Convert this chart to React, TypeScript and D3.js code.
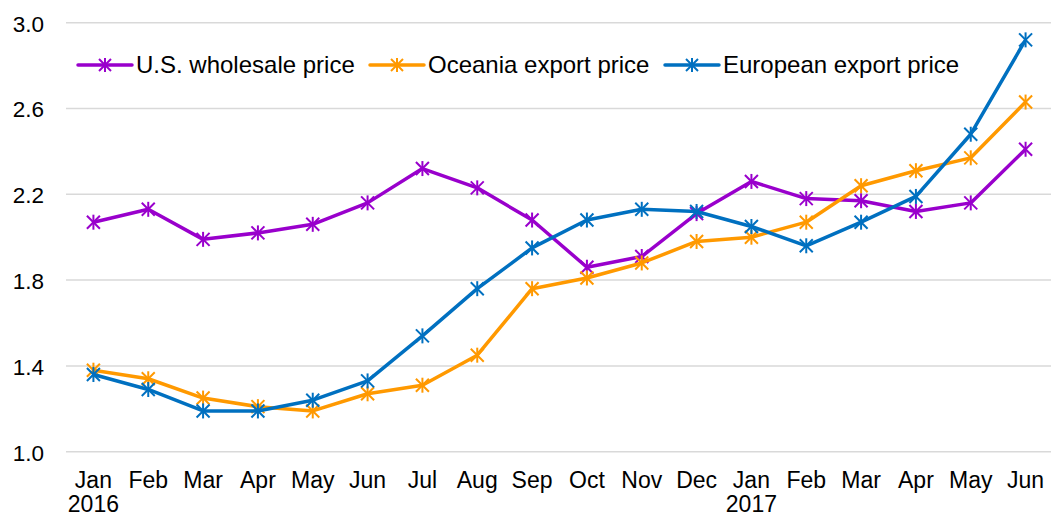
import React from "react";
import * as d3 from "d3";

const months = ["Jan", "Feb", "Mar", "Apr", "May", "Jun", "Jul", "Aug", "Sep", "Oct", "Nov", "Dec", "Jan", "Feb", "Mar", "Apr", "May", "Jun"];
const years: Record<number, string> = { 0: "2016", 12: "2017" };
const usWholesale = [2.07, 2.13, 1.99, 2.02, 2.06, 2.16, 2.32, 2.23, 2.08, 1.86, 1.91, 2.11, 2.26, 2.18, 2.17, 2.12, 2.16, 2.41];
const oceaniaExport = [1.38, 1.34, 1.25, 1.21, 1.19, 1.27, 1.31, 1.45, 1.76, 1.81, 1.88, 1.98, 2.0, 2.07, 2.24, 2.31, 2.37, 2.63];
const europeanExport = [1.36, 1.29, 1.19, 1.19, 1.24, 1.33, 1.54, 1.76, 1.95, 2.08, 2.13, 2.12, 2.05, 1.96, 2.07, 2.19, 2.48, 2.92];
const yTicks = [1.0, 1.4, 1.8, 2.2, 2.6, 3.0];
const seriesNames = ["U.S. wholesale price", "Oceania export price", "European export price"];
const seriesColors = ["#9900CC", "#FF9900", "#0070C0"];

const W = 1051;
const H = 517;
const FONT = "'Liberation Sans', Arial, sans-serif";

function Star({ x, y, color, r = 6.5 }: { x: number; y: number; color: string; r?: number }) {
  return (
    <g stroke={color} strokeWidth={2}>
      <line x1={x - r} y1={y - r} x2={x + r} y2={y + r} />
      <line x1={x - r} y1={y + r} x2={x + r} y2={y - r} />
      <line x1={x} y1={y - r - 1} x2={x} y2={y + r + 1} />
    </g>
  );
}

export default function App() {
  const x = d3.scaleBand<number>().domain(d3.range(months.length)).range([66, 1053]);
  const y = d3.scaleLinear().domain([1, 3]).range([451.7, 22.7]);
  const cx = (i: number) => (x(i) as number) + x.bandwidth() / 2;
  const line = d3.line<number>().x((_, i) => cx(i)).y((d) => y(d));
  const series = [usWholesale, oceaniaExport, europeanExport];
  const legendX = [78, 370, 665];

  return (
    <svg width={W} height={H} style={{ position: "absolute", left: 0, top: 0, background: "#fff" }} fontFamily={FONT}>
      {yTicks.map((t) => (
        <g key={t}>
          <line x1={66} x2={1051} y1={y(t)} y2={y(t)} stroke="#D9D9D9" strokeWidth={1.5} />
          <text x={44} y={y(t) + 1} dy="0.35em" textAnchor="end" fontSize={22.5} fill="#000">
            {t.toFixed(1)}
          </text>
        </g>
      ))}
      {months.map((m, i) => (
        <g key={i}>
          <text x={cx(i)} y={488} textAnchor="middle" fontSize={23} fill="#000">
            {m}
          </text>
          {years[i] && (
            <text x={cx(i)} y={512} textAnchor="middle" fontSize={23} fill="#000">
              {years[i]}
            </text>
          )}
        </g>
      ))}
      {series.map((s, k) => (
        <g key={k}>
          <path d={line(s) ?? ""} fill="none" stroke={seriesColors[k]} strokeWidth={3.5} strokeLinejoin="round" />
          {s.map((v, i) => (
            <Star key={i} x={cx(i)} y={y(v)} color={seriesColors[k]} />
          ))}
        </g>
      ))}
      {seriesNames.map((n, k) => (
        <g key={n}>
          <line x1={legendX[k]} x2={legendX[k] + 54} y1={65} y2={65} stroke={seriesColors[k]} strokeWidth={3.5} strokeLinecap="round" />
          <Star x={legendX[k] + 27} y={65} color={seriesColors[k]} r={6} />
          <text x={legendX[k] + 58} y={65} dy="0.35em" fontSize={24} fill="#000">
            {n}
          </text>
        </g>
      ))}
    </svg>
  );
}
